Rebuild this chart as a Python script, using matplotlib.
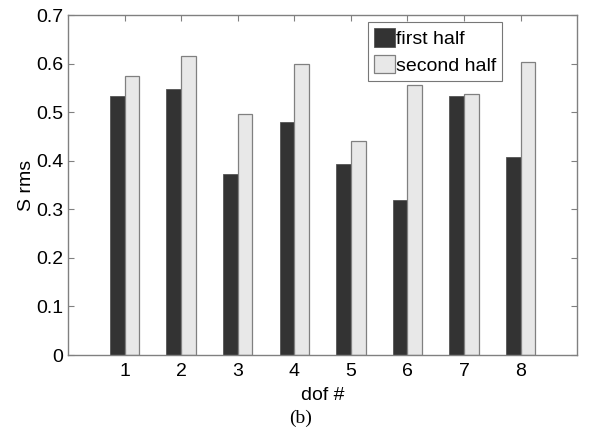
import numpy as np
import matplotlib.pyplot as plt

# S rms per degree of freedom, first and second half of the record
dof = [1, 2, 3, 4, 5, 6, 7, 8]
first_half = [0.533, 0.548, 0.373, 0.480, 0.393, 0.319, 0.533, 0.407]
second_half = [0.574, 0.615, 0.497, 0.600, 0.440, 0.555, 0.537, 0.603]

plt.rcParams['font.family'] = ['Liberation Sans', 'DejaVu Sans']

fig = plt.figure(figsize=(5.89, 4.30), dpi=100)
ax = fig.add_axes([0.1155, 0.1744, 0.8645, 0.7906])

x = np.array(dof)
w = 0.26
ax.bar(x - w / 2, first_half, w, color='#333333', edgecolor='#555555',
       linewidth=0.6, label='first half')
ax.bar(x + w / 2, second_half, w, color='#e8e8e8', edgecolor='#808080',
       linewidth=0.9, label='second half')

ax.set_xlim(0, 9)
ax.set_ylim(0, 0.7)
ax.set_xticks(dof)
ax.set_yticks(np.arange(0, 0.71, 0.1))
ax.set_yticklabels(['0', '0.1', '0.2', '0.3', '0.4', '0.5', '0.6', '0.7'])
ax.tick_params(direction='in', length=4, width=0.8, color='#808080',
               top=True, right=True, labelsize=14)
ax.tick_params(axis='x', pad=6)
ax.tick_params(axis='y', pad=3.5)
for s in ax.spines.values():
    s.set_color('#808080')
    s.set_linewidth(1.0)

ax.set_xlabel('dof #', fontsize=14, labelpad=5)
ax.set_ylabel('S rms', fontsize=14, labelpad=1)

leg = ax.legend(loc='upper right', bbox_to_anchor=(0.853, 0.979), fontsize=14,
                frameon=True, fancybox=False, edgecolor='#555555',
                handlelength=1.1, handleheight=1.1, handletextpad=0.05,
                borderpad=0.3, labelspacing=0.35, borderaxespad=0.0)
leg.get_frame().set_linewidth(0.8)

fig.text(0.51, 0.028, '(b)', family='Liberation Serif', fontsize=14,
         ha='center', va='center')

fig.savefig('out.png', dpi=100)
